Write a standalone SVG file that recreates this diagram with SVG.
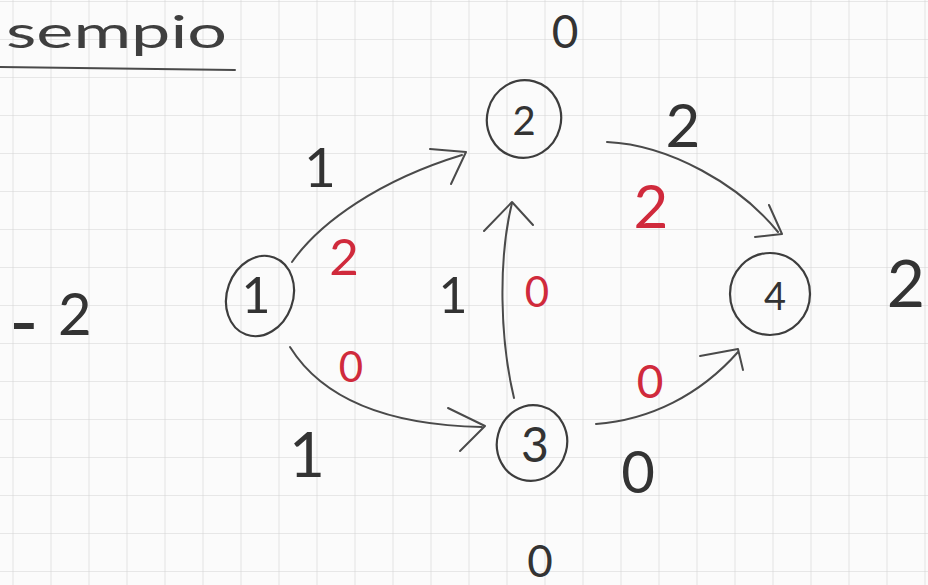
<svg xmlns="http://www.w3.org/2000/svg" width="928" height="585" viewBox="0 0 928 585">
<style>
.node{fill:none;stroke:#3d3d3d;stroke-width:2.2}
.edge{fill:none;stroke:#4a4a4a;stroke-width:2;stroke-linecap:round;stroke-linejoin:round}
.t{font-family:Lato,"Liberation Sans",sans-serif;font-weight:400;fill:#333;text-anchor:middle}
.r{fill:#d02a3c}
</style>
<defs>
<pattern id="grid" patternUnits="userSpaceOnUse" x="12.5" y="1" width="38" height="38">
<path d="M0 0H38M0 0V38" fill="none" stroke="#d4d4d4" stroke-width="1.2"/>
</pattern>
</defs>
<rect width="928" height="585" fill="#fbfbfb"/>
<rect width="928" height="585" fill="url(#grid)"/>
<g id="title">
<text x="6" y="48" class="t" style="text-anchor:start;fill:#3f3f3f" font-size="44" textLength="221" lengthAdjust="spacingAndGlyphs">sempio</text>
<path d="M0 67L235 70" class="edge" stroke-width="2.5"/>
</g>
<g id="connectors">
<path class="edge" d="M292 262C320 222 380 180 462 155"/>
<path class="edge" d="M430 149L466 152L451 184"/>
<path class="edge" d="M290 347C320 395 380 425 482 427"/>
<path class="edge" d="M448 408L485 426L460 451"/>
<path class="edge" d="M514 398C500 340 498 260 512 203"/>
<path class="edge" d="M484 231L512 202L533 225"/>
<path class="edge" d="M607 142C670 145 740 185 778 232"/>
<path class="edge" d="M769 205L782 234L755 237"/>
<path class="edge" d="M596 424C650 420 700 395 738 352"/>
<path class="edge" d="M700 356L738 349L743 370"/>
</g>
<g id="node1">
<ellipse class="node" cx="260" cy="296" rx="33" ry="41" transform="rotate(20 260 296)"/>
<text class="t" x="256" y="313" font-size="50">1</text>
</g>
<g id="node2">
<ellipse class="node" cx="524" cy="119" rx="37" ry="39" transform="rotate(15 524 119)"/>
<text class="t" x="524" y="135" font-size="40">2</text>
</g>
<g id="node3">
<ellipse class="node" cx="532" cy="443" rx="35" ry="38" transform="rotate(15 532 443)"/>
<text class="t" x="535" y="462" font-size="48">3</text>
</g>
<g id="node4">
<ellipse class="node" cx="770" cy="294" rx="40" ry="41"/>
<text class="t" x="775" y="310" font-size="38">4</text>
</g>
<g id="labels">
<text class="t" x="320" y="187" font-size="55">1</text>
<text class="t r" x="344" y="275" font-size="51">2</text>
<text class="t" x="453" y="313" font-size="50">1</text>
<text class="t r" x="537" y="307" font-size="42">0</text>
<text class="t r" x="351" y="382" font-size="42">0</text>
<text class="t" x="307" y="477" font-size="62">1</text>
<text class="t" x="565" y="48" font-size="46">0</text>
<text class="t" x="683" y="147" font-size="60">2</text>
<text class="t r" x="651" y="228" font-size="60">2</text>
<text class="t" x="906" y="307" font-size="66">2</text>
<text class="t r" x="650" y="398" font-size="46">0</text>
<text class="t" x="638" y="493" font-size="58">0</text>
<text class="t" x="540" y="577" font-size="44">0</text>
<text class="t" style="text-anchor:start" font-size="58" y="335"><tspan x="9" y="350" font-size="80">-</tspan><tspan x="58" y="335">2</tspan></text>
</g>
</svg>
